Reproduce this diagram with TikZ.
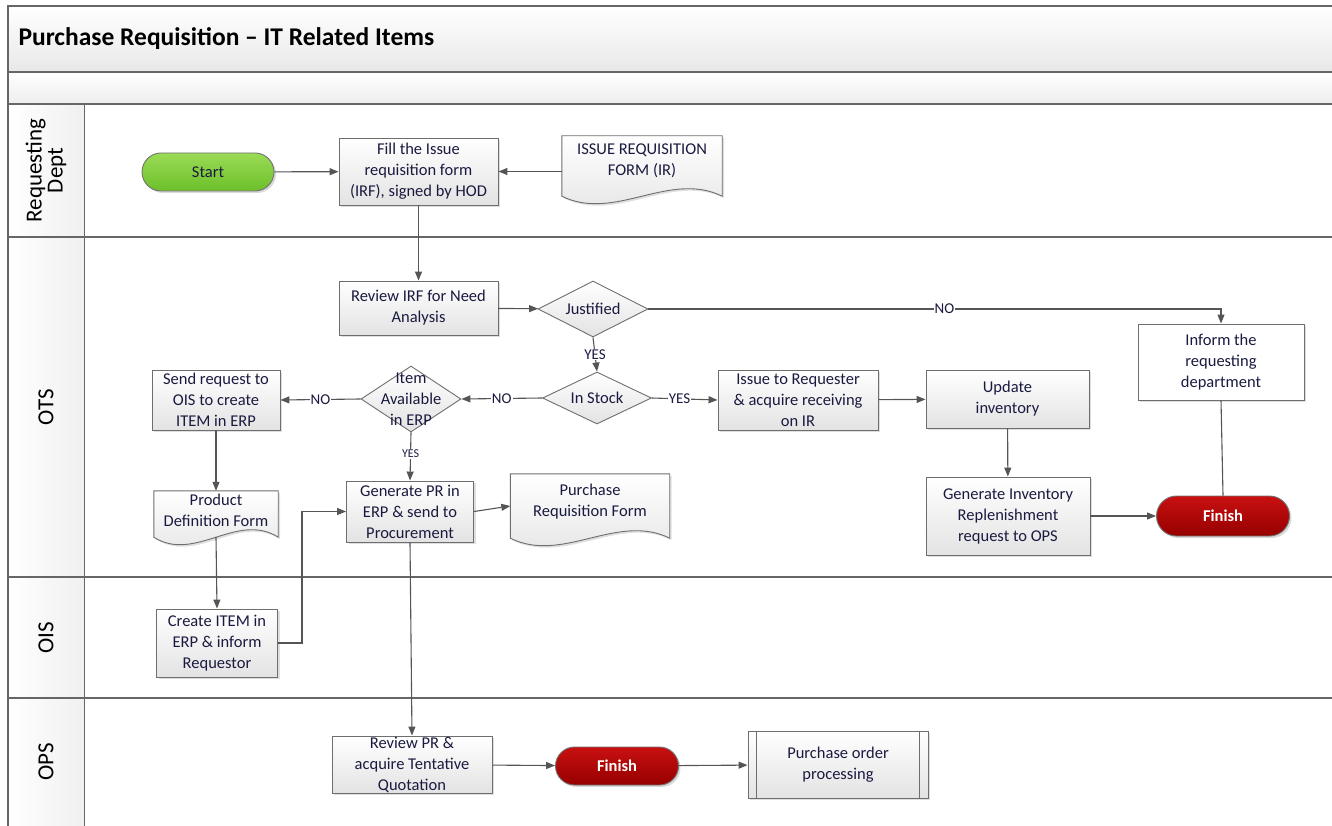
\documentclass[tikz,border=0pt]{standalone}
\usepackage{fontspec}
\setmainfont{Carlito}
\usetikzlibrary{shapes.geometric,shapes.misc,arrows.meta,calc,shadows,positioning}
\definecolor{lineg}{HTML}{555555}
\definecolor{boxb}{HTML}{6E6E6E}
\definecolor{gA}{HTML}{9BDB55}
\definecolor{gB}{HTML}{6CBF2A}
\definecolor{rA}{HTML}{C81010}
\definecolor{rB}{HTML}{960000}
\definecolor{txt}{HTML}{1A1A40}
\tikzset{
  bodyfont/.style={font=\fontsize{16.5}{21}\selectfont},
  lane/.style={draw=lineg!90, line width=1.4pt},
  proc/.style={draw=boxb, line width=0.9pt, top color=white, bottom color=black!11,
    minimum width=#1, align=center, inner xsep=2pt, inner ysep=0pt, bodyfont, text=txt,
    drop shadow={opacity=0.25, shadow xshift=2pt, shadow yshift=-2pt}},
  proc/.default=150,
  plainbox/.style={draw=boxb, line width=0.9pt, fill=white, minimum width=#1, align=center,
    inner xsep=2pt, inner ysep=0pt, bodyfont, text=txt,
    drop shadow={opacity=0.25, shadow xshift=2pt, shadow yshift=-2pt}},
  docnode/.style={draw=none, minimum width=#1, align=center, inner sep=0pt, bodyfont, text=txt},
  docline/.style={draw=boxb, line width=0.9pt, top color=white, bottom color=black!11,
    drop shadow={opacity=0.25, shadow xshift=2pt, shadow yshift=-2pt}},
  decis/.style={diamond, draw=boxb, line width=0.9pt, top color=white, bottom color=black!11,
    inner sep=0pt},
  dtext/.style={bodyfont, text=txt, align=center, inner sep=0pt},
  term/.style={rounded rectangle, draw=black!55, line width=0.9pt, inner sep=0pt,
    drop shadow={opacity=0.3, shadow xshift=2pt, shadow yshift=-2pt}},
  finish/.style={term, top color=rA, bottom color=rB, text=white,
    font=\fontsize{16.5}{21}\selectfont\bfseries},
  conn/.style={draw=lineg, line width=1.1pt, -{Triangle[length=9pt,width=7pt]}},
  plainconn/.style={draw=lineg, line width=1.1pt},
  lbl/.style={fill=white, inner sep=1pt, font=\fontsize{15}{17}\selectfont, text=txt},
  slbl/.style={fill=white, inner sep=1pt, font=\fontsize{12}{13}\selectfont, text=txt},
  lanetxt/.style={rotate=90, font=\fontsize{23}{23}\selectfont, align=center, text=black},
}
\newcommand\docshape[1]{%
  \path[docline] (#1.north west) -- (#1.north east) -- (#1.south east)
    .. controls ($(#1.south east)!0.33!(#1.south west)+(0,-26)$) and ($(#1.south east)!0.67!(#1.south west)+(0,26)$) .. (#1.south west) -- cycle;}
\begin{document}
\begin{tikzpicture}[x=1pt,y=-1pt]
\useasboundingbox (0,0) rectangle (1332,826);
% ---------- pool ----------
\fill[top color=white, bottom color=black!9] (8,6) rectangle (1332,72);
\fill[top color=white, bottom color=black!7] (8,72) rectangle (1332,104);
\fill[left color=white, right color=black!6] (8,104) rectangle (84,826);
\node[anchor=west, font=\fontsize{25.5}{27}\selectfont\bfseries, text=black] (title) at (15,39) {Purchase Requisition -- IT Related Items};
\draw[lane] (1332,6) -- (8,6) -- (8,826);
\draw[lane] (8,72) -- (1332,72);
\draw[lane] (8,104) -- (1332,104);
\draw[lane] (8,237) -- (1332,237);
\draw[lane] (8,577) -- (1332,577);
\draw[lane] (8,698) -- (1332,698);
\draw[draw=lineg!90, line width=1pt] (84,104) -- (84,826);
\node[lanetxt] (l1) at (46,170.5) {Requesting\\[-2pt]Dept};
\node[lanetxt] (l2) at (46,407) {OTS};
\node[lanetxt] (l3) at (46,637.5) {OIS};
\node[lanetxt] (l4) at (46,762) {OPS};
% ---------- nodes ----------
\node[term, minimum width=132, minimum height=38, top color=gA, bottom color=gB,
  bodyfont, text=txt] (start) at (208,172) {Start};
\node[proc=159, minimum height=67] (fill) at (418.5,171.5) {Fill the Issue\\requisition form\\(IRF), signed by HOD};
\node[docnode=160, minimum height=60] (irform) at (642,166) {};
\node[proc=159, minimum height=54] (review) at (418.5,308) {Review IRF for Need\\Analysis};
\node[decis, minimum width=110, minimum height=56] (just) at (593,309) {};
\node[dtext] (justt) at (just) {Justified};
\node[plainbox=166, minimum height=76] (inform) at (1221,362) {Inform the\\requesting\\department};
\node[decis, minimum width=109, minimum height=52] (stock) at (597,398) {};
\node[dtext] (stockt) at (stock) {In Stock};
\node[decis, minimum width=100, minimum height=66] (avail) at (411,399) {};
\node[dtext] (availt) at (avail) {Item\\Available\\in ERP};
\node[proc=128, minimum height=60] (send) at (216,400) {Send request to\\OIS to create\\ITEM in ERP};
\node[proc=160, minimum height=60] (issue) at (798,400) {Issue to Requester\\\& acquire receiving\\on IR};
\node[proc=163, minimum height=58] (update) at (1007.5,399) {Update\\inventory};
\node[proc=164, minimum height=78] (geninv) at (1008,516) {Generate Inventory\\Replenishment\\request to OPS};
\node[finish, minimum width=133, minimum height=40] (fin1) at (1223,516) {Finish};
\node[docnode=124, minimum height=46] (pdf) at (216,514) {};
\node[proc=127, minimum height=61] (genpr) at (410,511.5) {Generate PR in\\ERP \& send to\\Procurement};
\node[docnode=159, minimum height=64] (prf) at (590,506) {};
\node[proc=121, minimum height=68] (create) at (217,643) {Create ITEM in\\ERP \& inform\\Requestor};
\node[proc=160, minimum height=57] (revpr) at (412,764.5) {Review PR \&\\acquire Tentative\\Quotation};
\node[finish, minimum width=123, minimum height=38] (fin2) at (617,766) {Finish};
\node[proc=180, minimum height=67] (po) at (838,764.5) {Purchase order\\processing};
\draw[draw=boxb, line width=0.9pt] ([xshift=9pt]po.north west) -- ([xshift=9pt]po.south west);
\draw[draw=boxb, line width=0.9pt] ([xshift=-9pt]po.north east) -- ([xshift=-9pt]po.south east);
% document shapes
\docshape{irform}
\docshape{pdf}
\docshape{prf}
\node[docnode=158] (irformt) at ([yshift=5pt]irform.center) {ISSUE REQUISITION\\FORM (IR)};
\node[docnode=120] (pdft) at ([yshift=4pt]pdf.center) {Product\\Definition Form};
\node[docnode=155] (prft) at ([yshift=4pt]prf.center) {Purchase\\Requisition Form};
% ---------- connectors ----------
\draw[conn] (start) -- (fill);
\draw[conn] (irform.west |- fill.east) -- (fill.east);
\draw[conn] (fill) -- (review);
\draw[conn] (review) -- (just);
\coordinate (jn) at (inform.north |- just.east);
\draw[conn] (just.east) -- node[lbl, pos=0.517] {NO} (jn) -- (inform.north);
\draw[conn] (just.south) -- node[lbl] {YES} (stock.north);
\draw[conn] (stock.west) -- node[lbl] {NO} (avail.east);
\draw[conn] (avail.west) -- node[lbl] {NO} (send.east);
\draw[conn] (stock.east) -- node[lbl, pos=0.42] {YES} (issue.west);
\draw[conn] (avail.south) -- node[slbl, pos=0.45] {YES} (genpr.north);
\draw[conn] (send) -- (pdf);
\draw[conn] (pdf.south) -- (create.north);
\coordinate (cr) at (302,643);
\draw[conn] (create.east) -- (cr) |- (genpr.west);
\draw[conn] (genpr.east) -- (prf.west);
\draw[conn] (genpr.south) -- (revpr.north);
\draw[conn] (issue) -- (update);
\draw[conn] (update) -- (geninv);
\draw[conn] (geninv) -- (fin1);
\draw[plainconn] (inform.south) -- (fin1.north);
\draw[conn] (revpr) -- (fin2);
\draw[conn] (fin2) -- (po);
\end{tikzpicture}
\end{document}
